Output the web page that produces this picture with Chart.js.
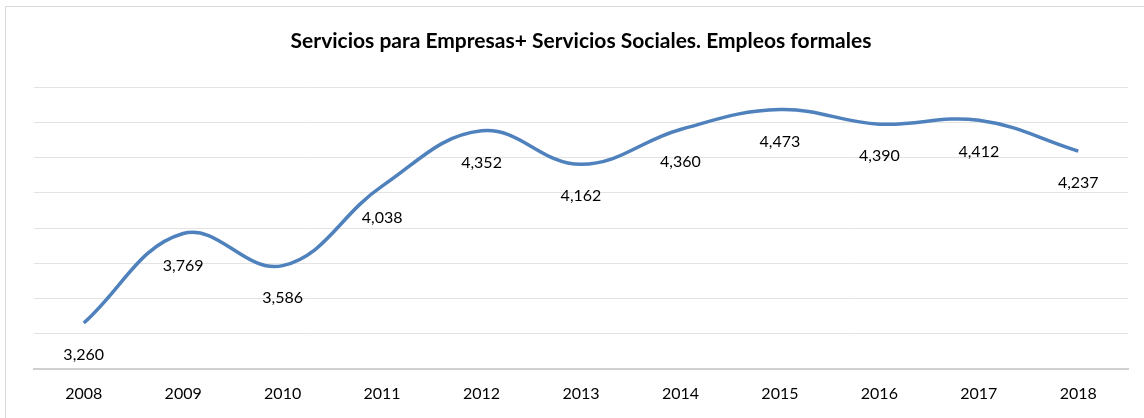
<!DOCTYPE html>
<html>
<head>
<meta charset="utf-8">
<script src="https://cdn.jsdelivr.net/npm/chart.js@4"></script>
<style>
  html, body { margin: 0; padding: 0; background: #fff; overflow: hidden; }
  #wrap { position: relative; width: 1144px; height: 418px; }
  #frame { position: absolute; left: 5px; top: 6px; width: 1160px; height: 430px; border: 1px solid #d9d9d9; }
  canvas { position: absolute; left: 0; top: 0; }
</style>
</head>
<body>
<div id="wrap">
  <div id="frame"></div>
  <canvas id="myChart" width="1144" height="418"></canvas>
</div>
<script>
const years = ['2008', '2009', '2010', '2011', '2012', '2013', '2014', '2015', '2016', '2017', '2018'];
const empleos = [3260, 3769, 3586, 4038, 4352, 4162, 4360, 4473, 4390, 4412, 4237];
const chartTitle = 'Servicios para Empresas+ Servicios Sociales. Empleos formales';

// etiquetas de datos debajo de cada punto
const labelsBelow = {
    id: 'labelsBelow',
    afterDatasetsDraw(chart) {
        const ctx = chart.ctx;
        const meta = chart.getDatasetMeta(0);
        ctx.save();
        ctx.font = '16px Lato';
        ctx.fillStyle = '#000';
        ctx.textAlign = 'center';
        ctx.textBaseline = 'middle';
        meta.data.forEach((pt, i) => {
            const v = chart.data.datasets[0].data[i];
            ctx.fillText(v.toLocaleString('en-US'), pt.x, pt.y + 32);
        });
        ctx.restore();
    }
};

const ctx = document.getElementById('myChart').getContext('2d');

const myChart = new Chart(ctx, {
    type: 'line',
    data: {
        labels: years,
        datasets: [{
            label: 'Empleos formales',
            data: empleos,
            borderColor: 'rgb(79, 129, 189)',
            borderWidth: 3.5,
            pointRadius: 0,
            tension: 0.4,
            fill: false
        }]
    },
    options: {
        responsive: false,
        animation: false,
        layout: { padding: { left: 34, right: 16, top: 0, bottom: 0 } },
        plugins: {
            legend: { display: false },
            tooltip: { enabled: false },
            title: {
                display: true,
                text: chartTitle,
                color: '#000',
                font: { family: 'Lato', size: 21, weight: 'bold' },
                padding: { top: 29, bottom: 33 }
            }
        },
        scales: {
            x: {
                offset: true,
                grid: { display: false, drawTicks: false, tickLength: 0 },
                border: { color: '#d0d0d0', width: 2 },
                ticks: { color: '#000', font: { family: 'Lato', size: 16 }, padding: 15, maxRotation: 0 }
            },
            y: {
                min: 3000,
                max: 4600,
                ticks: { stepSize: 200, display: false },
                border: { display: false },
                grid: { color: '#e3e3e3', lineWidth: 1, drawTicks: false }
            }
        }
    },
    plugins: [labelsBelow]
});
</script>
</body>
</html>
